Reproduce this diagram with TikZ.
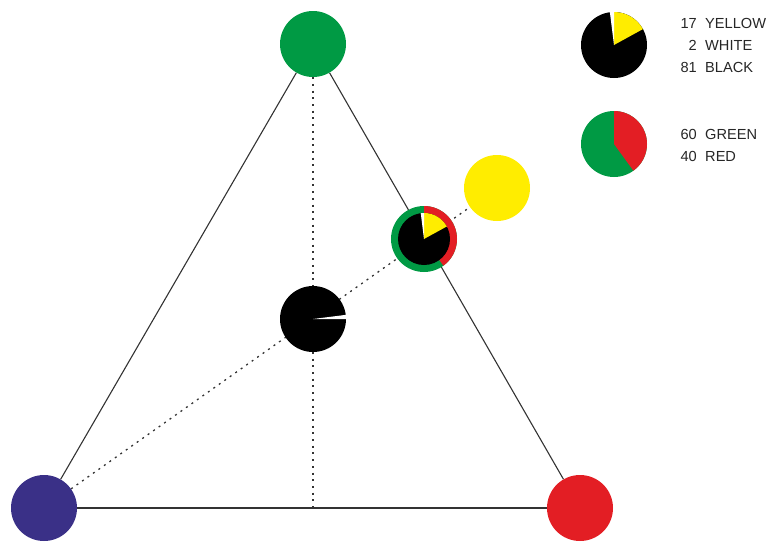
\documentclass[tikz,border=0pt]{standalone}
\usepackage{fontspec}
\setmainfont{Liberation Sans}
\usetikzlibrary{positioning,backgrounds}

\definecolor{ballgreen}{RGB}{0,154,68}
\definecolor{ballblue}{RGB}{58,48,135}
\definecolor{ballred}{RGB}{227,30,36}
\definecolor{ballyellow}{RGB}{255,237,0}

\begin{document}
\begin{tikzpicture}[x=1pt, y=1pt,
    ball/.style={circle, minimum size=66pt, inner sep=0pt},
    edge/.style={draw=black!80, line width=1.1pt},
    guide/.style={draw=black!80, line width=1.3pt, dash pattern=on 2pt off 4.7pt},
    count/.style={anchor=base east, inner sep=0pt, font=\fontsize{14.6}{16}\selectfont, text=black!85},
    colname/.style={anchor=base west, inner sep=0pt, font=\fontsize{14.6}{16}\selectfont, text=black!85},
]

\useasboundingbox (0,0) rectangle (767,-541);

% Corners of the triangle
\node[ball, fill=ballgreen] (green) at (313,-44) {};
\node[ball, fill=ballblue] (blue) at (44,-508) {};
\node[ball, fill=ballred] (red) at (580,-508) {};
\node[ball, fill=ballyellow] (yellow) at (497,-188) {};
\coordinate (foot) at (313,-508);

% Black pie in the middle
\node[ball] (mid) at (313,-319) {};
\fill[black] (mid.center) circle (33pt);
\fill[white] (mid.center) -- ++(0:33.5pt) arc (0:7.2:33.5pt) -- cycle;

% Mixture pie on the green-red edge
\node[ball] (mix) at (424,-239) {};
\fill[ballgreen] (mix.center) circle (33pt);
\fill[ballred] (mix.center) -- ++(90:33pt) arc (90:-54:33pt) -- cycle;
\fill[black] (mix.center) circle (26pt);
\fill[ballyellow] (mix.center) -- ++(90:26pt) arc (90:28.8:26pt) -- cycle;
\fill[white] (mix.center) -- ++(90:26pt) arc (90:97.2:26pt) -- cycle;

% Lines
\begin{scope}[on background layer]
\draw[edge] (green) -- (blue);
\draw[edge] (green) -- (red);
\draw[edge] (blue) -- (red);
\draw[guide] (green) -- (foot);
\draw[guide] (blue) -- (yellow);
\end{scope}

% Legend
\node[ball] (keyone) at (614,-45) {};
\fill[black] (keyone.center) circle (33pt);
\fill[ballyellow] (keyone.center) -- ++(90:33pt) arc (90:28.8:33pt) -- cycle;
\fill[white] (keyone.center) -- ++(90:33.5pt) arc (90:97.2:33.5pt) -- cycle;

\node[ball] (keytwo) at (614,-144) {};
\fill[ballgreen] (keytwo.center) circle (33pt);
\fill[ballred] (keytwo.center) -- ++(90:33pt) arc (90:-54:33pt) -- cycle;

\node[count] (nyellow) at (697,-28) {17};
\node[colname] (tyellow) at (705,-28) {YELLOW};
\node[count] (nwhite) at (697,-50) {2};
\node[colname] (twhite) at (705,-50) {WHITE};
\node[count] (nblack) at (697,-72) {81};
\node[colname] (tblack) at (705,-72) {BLACK};
\node[count] (ngreen) at (697,-139) {60};
\node[colname] (tgreen) at (705,-139) {GREEN};
\node[count] (nred) at (697,-161) {40};
\node[colname] (tred) at (705,-161) {RED};

\end{tikzpicture}
\end{document}
